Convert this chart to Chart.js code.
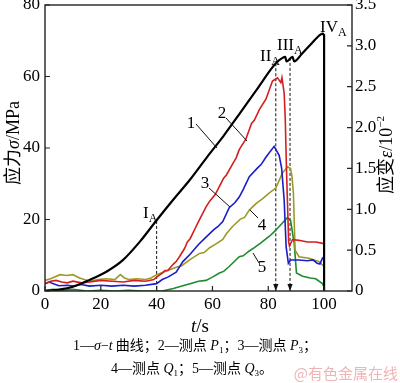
<!DOCTYPE html>
<html><head><meta charset="utf-8">
<script src="https://cdn.jsdelivr.net/npm/chart.js@4/dist/chart.umd.min.js"></script>
<style>html,body{margin:0;padding:0;background:#fff}#wrap{width:400px;height:383px}</style>
</head><body><div id="wrap"><canvas id="c" width="400" height="383"></canvas></div>
<script>
// ---- data ----
const tBlack = [0,5,10,16,22,28,34,40,46,52,58,64,70,76,82.7,85.1,86.1,86.5,88.7,89.3,92,95,98.8,99.6,100,100];
const sBlack = [0,0.4,1.2,3.1,5.4,8.7,13.8,19.8,25.6,31.2,37.4,43.4,49.9,56.5,63.7,65.2,65.5,64.2,65.5,64.2,66.3,68.8,71.8,72,71.5,0];

const tP1 = [0,2,4,6,8,10,13,16,20,24,28,32,36,39,40,42,43,44,46,47,48,50,51,52,54,55,57.7,59,61,62.5,64,65,67.3,68.5,69.6,72,74,75,76.8,79.2,81.5,83.3,84.5,84.9,85.7,86.1,86.5,87.3,87.6,88.7,91,94,97,100];
const eP1 = [0.09,0.12,0.13,0.11,0.10,0.12,0.10,0.11,0.13,0.12,0.11,0.13,0.12,0.14,0.17,0.22,0.25,0.25,0.33,0.36,0.41,0.52,0.6,0.64,0.78,0.85,1.03,1.1,1.18,1.28,1.38,1.42,1.56,1.63,1.73,1.86,2.05,2.09,2.22,2.35,2.57,2.61,2.55,2.61,2.42,2.09,1.52,0.6,0.55,0.63,0.62,0.6,0.6,0.58];

const tP3 = [0,1.5,3,5,8,10,13,16,20,24,28,32,36,40,42,44,47,49.4,52,55,57.7,60.5,62,63.7,66,68,69.6,71,73.2,76,77.5,79.2,82.1,83.9,84.8,85.7,86.4,87.2,88,91,94,96,97.5,98.5,99.4,100];
const eP3 = [0.09,0.11,0.09,0.065,0.07,0.06,0.08,0.06,0.07,0.06,0.07,0.06,0.07,0.09,0.14,0.17,0.23,0.36,0.45,0.57,0.66,0.75,0.79,0.85,1.02,1.08,1.15,1.24,1.4,1.5,1.55,1.64,1.77,1.66,1.5,1.11,0.54,0.34,0.38,0.38,0.37,0.38,0.34,0.33,0.4,0.42];

const tQ1 = [0,2,5.4,7.7,10,12.4,16,19,22,25,27,28.5,30,33,36,38,40,43,47,49,51.8,55.4,57,59,61,63.7,65,67.2,70,71.5,73.2,75.6,78,80.4,82.7,85,86.9,88,88.5,89,89.6,91,94.6,96.5,98.2,100];
const eQ1 = [0.13,0.15,0.2,0.19,0.2,0.16,0.12,0.14,0.15,0.14,0.2,0.16,0.14,0.15,0.14,0.16,0.2,0.24,0.29,0.31,0.38,0.46,0.47,0.53,0.57,0.63,0.7,0.79,0.88,0.9,0.99,1.07,1.13,1.2,1.26,1.44,1.52,1.5,1.4,1.2,0.5,0.42,0.4,0.38,0.36,0.3];

const tQ3 = [0,3,6,10,15,20,25,30,35,42,46,50,52,55,57.7,60,62.5,64,66,69.6,71,73.2,75,77,80.4,82,83.9,86.9,88,89.3,90.1,92.3,95,97,99.4,100];
const eQ3 = [0.01,0.02,0.01,0.02,0.0,0.01,0.0,0.01,0.0,0.0,0.03,0.07,0.09,0.12,0.13,0.17,0.22,0.24,0.3,0.42,0.43,0.49,0.53,0.58,0.67,0.72,0.79,0.9,0.86,0.58,0.22,0.18,0.16,0.15,0.09,0.05];

// feature points (I_A, II_A, III_A) on curve 1
const markT = [40, 82.7, 87.8];
const markS = [19.6, 63.7, 65.2];
const markArrow = [false, true, true];

const xTicks = [0,20,40,60,80,100];
const yTicks = [0,20,40,60,80];
const y2Ticks = [0,0.5,1.0,1.5,2.0,2.5,3.0,3.5];

// ---- helpers ----
const SERIF = '"Liberation Serif","DejaVu Serif",serif';
const CJK = '"Noto Sans CJK SC",sans-serif';
const pts = (ts, vs) => ts.map((t,i)=>({x:t,y:vs[i]}));

function runs(ctx, parts, x, y, align, rot){
  ctx.save(); ctx.translate(x,y); if(rot) ctx.rotate(rot);
  let w=0; parts.forEach(p=>{ctx.font=p.f; p.w=ctx.measureText(p.t).width; w+=p.w;});
  let cx = align==='center' ? -w/2 : (align==='right' ? -w : 0);
  ctx.textAlign='left'; ctx.textBaseline='alphabetic';
  parts.forEach(p=>{ctx.font=p.f; ctx.fillStyle=p.c||'#000'; ctx.fillText(p.t,cx,p.dy||0); cx+=p.w;});
  ctx.restore();
}

const markDatasets = markT.map((t,i)=>({
  data:[{x:t,y:markS[i]},{x:t,y:0}], yAxisID:'y', borderColor:'#111', borderWidth:1,
  borderDash:[3,2], pointRadius:0, fill:false, order:10
}));

const decor = {
  id:'decor',
  afterDraw(chart){
    const ctx = chart.ctx, a = chart.chartArea;
    const sx = chart.scales.x, sy = chart.scales.y, sy2 = chart.scales.y2;
    ctx.save();
    ctx.strokeStyle='#222'; ctx.lineWidth=1.4;
    ctx.strokeRect(a.left, a.top, a.right-a.left, a.bottom-a.top);
    ctx.lineWidth=1.2; ctx.beginPath();
    xTicks.forEach(v=>{const px=sx.getPixelForValue(v); ctx.moveTo(px,a.bottom); ctx.lineTo(px,a.bottom-5);});
    yTicks.forEach(v=>{const py=sy.getPixelForValue(v); ctx.moveTo(a.left,py); ctx.lineTo(a.left+5,py);});
    y2Ticks.forEach(v=>{const py=sy2.getPixelForValue(v); ctx.moveTo(a.right,py); ctx.lineTo(a.right-5,py);});
    ctx.stroke();
    ctx.fillStyle='#111';
    markT.forEach((t,i)=>{ if(!markArrow[i]) return;
      const px=sx.getPixelForValue(t), py=sy.getPixelForValue(0);
      ctx.beginPath(); ctx.moveTo(px,py); ctx.lineTo(px-2.6,py-7); ctx.lineTo(px+2.6,py-7); ctx.closePath(); ctx.fill();
    });
    const F='17px '+SERIF, FS='12px '+SERIF;
    runs(ctx,[{t:'I',f:F},{t:'A',f:FS,dy:4}],143,218,'left');
    runs(ctx,[{t:'II',f:F},{t:'A',f:FS,dy:4}],260,61,'left');
    runs(ctx,[{t:'III',f:F},{t:'A',f:FS,dy:4}],277,50,'left');
    runs(ctx,[{t:'IV',f:F},{t:'A',f:FS,dy:4}],320,32,'left');
    const NF='17px '+SERIF;
    runs(ctx,[{t:'1',f:NF}],191,128,'center');
    runs(ctx,[{t:'2',f:NF}],222,118,'center');
    runs(ctx,[{t:'3',f:NF}],205,188,'center');
    runs(ctx,[{t:'4',f:NF}],262,230,'center');
    runs(ctx,[{t:'5',f:NF}],262,272,'center');
    ctx.strokeStyle='#111'; ctx.lineWidth=1; ctx.beginPath();
    ctx.moveTo(196,124); ctx.lineTo(217,148);
    ctx.moveTo(226,118); ctx.lineTo(247,141);
    ctx.moveTo(209,188); ctx.lineTo(230,207);
    ctx.moveTo(258,218); ctx.lineTo(250,210);
    ctx.moveTo(259,263); ctx.lineTo(253,253);
    ctx.stroke();
    const TF='18px '+CJK, TS='italic 18px '+SERIF, TL='18px '+SERIF;
    runs(ctx,[{t:'应力',f:TF},{t:'σ',f:TS},{t:'/MPa',f:TL}],19,143,'center',-Math.PI/2);
    runs(ctx,[{t:'应变',f:TF},{t:'ε',f:TS},{t:'/10',f:TL},{t:'−2',f:'11px '+SERIF,dy:-8}],392,155,'center',-Math.PI/2);
    runs(ctx,[{t:'t',f:'italic 19px '+SERIF},{t:'/s',f:'19px '+SERIF}],200,332,'center');
    const CF='14px '+CJK, CS='14px '+SERIF, CI='italic 14px '+SERIF, SUB='9px '+SERIF;
    runs(ctx,[{t:'1—',f:CS},{t:'σ',f:CI},{t:'−',f:CS},{t:'t',f:CI},{t:' 曲线；',f:CF},{t:'2—',f:CS},{t:'测点',f:CF},{t:' P',f:CI},{t:'1',f:SUB,dy:3},{t:'；',f:CF},{t:'3—',f:CS},{t:'测点',f:CF},{t:' P',f:CI},{t:'3',f:SUB,dy:3},{t:'；',f:CF}],195,350,'center');
    runs(ctx,[{t:'4—',f:CS},{t:'测点',f:CF},{t:' Q',f:CI},{t:'1',f:SUB,dy:3},{t:'；',f:CF},{t:'5—',f:CS},{t:'测点',f:CF},{t:' Q',f:CI},{t:'3',f:SUB,dy:3},{t:'。',f:CF}],192,373,'center');
    runs(ctx,[{t:'@有色金属在线',f:'15px '+CJK,c:'#f0b4b4'}],398,379,'right');
    ctx.restore();
  }
};

new Chart(document.getElementById('c'), {
  type:'line',
  data:{datasets:[
    {data:pts(tBlack,sBlack), yAxisID:'y', borderColor:'#000', borderWidth:2.2, cubicInterpolationMode:'monotone', tension:0.3},
    {data:pts(tP1,eP1), yAxisID:'y2', borderColor:'#d21f1f', borderWidth:1.6},
    {data:pts(tP3,eP3), yAxisID:'y2', borderColor:'#1c1cc8', borderWidth:1.6},
    {data:pts(tQ1,eQ1), yAxisID:'y2', borderColor:'#9c9a26', borderWidth:1.6},
    {data:pts(tQ3,eQ3), yAxisID:'y2', borderColor:'#1f8a2e', borderWidth:1.6},
    ...markDatasets
  ]},
  options:{
    responsive:false, animation:false, devicePixelRatio:1,
    layout:{padding:{top:5,left:0,right:0,bottom:0}},
    elements:{point:{radius:0}, line:{tension:0, fill:false}},
    plugins:{legend:{display:false}, tooltip:{enabled:false}},
    scales:{
      x:{type:'linear', min:0, max:110, position:'bottom',
        afterBuildTicks:s=>{s.ticks=xTicks.map(v=>({value:v}));},
        afterFit:s=>{s.height=92; s.paddingLeft=0; s.paddingRight=0;},
        grid:{display:true, drawOnChartArea:false, drawTicks:false},
        border:{display:false},
        ticks:{padding:3, color:'#000', font:{family:SERIF, size:17}, maxRotation:0, autoSkip:false}},
      y:{type:'linear', min:0, max:80, position:'left',
        afterBuildTicks:s=>{s.ticks=yTicks.map(v=>({value:v}));},
        afterFit:s=>{s.width=45; s.paddingTop=0; s.paddingBottom=0;},
        grid:{display:true, drawOnChartArea:false, drawTicks:false},
        border:{display:false},
        ticks:{padding:5, color:'#000', font:{family:SERIF, size:17}}},
      y2:{type:'linear', min:0, max:3.5, position:'right',
        afterBuildTicks:s=>{s.ticks=y2Ticks.map(v=>({value:v}));},
        afterFit:s=>{s.width=48; s.paddingTop=0; s.paddingBottom=0;},
        grid:{display:true, drawOnChartArea:false, drawTicks:false},
        border:{display:false},
        ticks:{padding:3, color:'#000', font:{family:SERIF, size:17},
          callback:v=> v===0 ? '0' : Number(v).toFixed(1)}}
    }
  },
  plugins:[decor]
});
</script></body></html>
